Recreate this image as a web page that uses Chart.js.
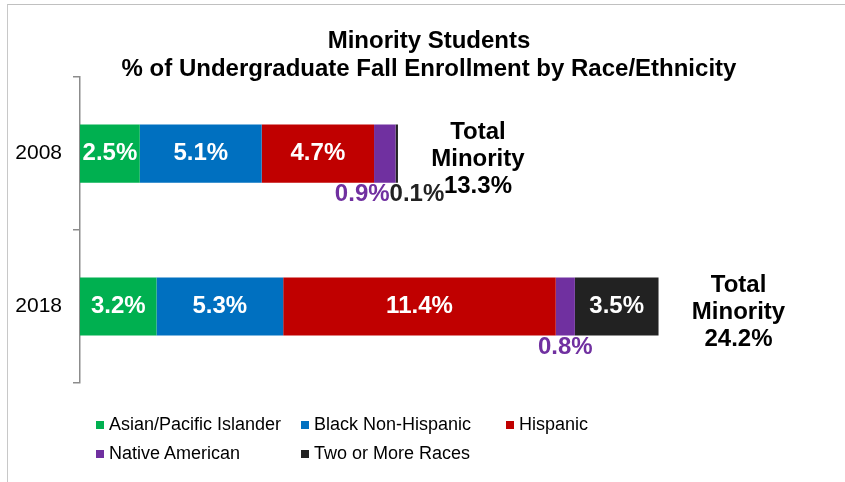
<!DOCTYPE html>
<html>
<head>
<meta charset="utf-8">
<script src="https://cdn.jsdelivr.net/npm/chart.js@4"></script>
<style>
  html, body { margin: 0; padding: 0; background: #fff; }
  body { width: 845px; height: 482px; position: relative; overflow: hidden; font-family: Arial, "Liberation Sans", sans-serif; }
  #frame { position: absolute; left: 7px; top: 4px; right: 0; bottom: 0; border-top: 1px solid #c0c0c0; border-left: 1px solid #c8c8c8; }
  #wrap { position: absolute; left: 0; top: 0; width: 845px; height: 482px; }
  #legend { position: absolute; left: 96px; top: 410px; display: grid; grid-template-columns: 205px 205px 205px; grid-auto-rows: 29px; font-size: 18px; color: #000; }
  .li { display: flex; align-items: center; white-space: nowrap; }
  .sw { width: 8px; height: 8px; margin-right: 5px; flex: none; }
</style>
</head>
<body>
<div id="frame"></div>
<div id="wrap"><canvas id="c"></canvas></div>
<div id="legend"></div>
<script>
/* Minority students, % of undergraduate fall enrollment */

const YEARS = ['2008', '2018'];
const GROUPS = ['Asian/Pacific Islander', 'Black Non-Hispanic', 'Hispanic', 'Native American', 'Two or More Races'];
const COLORS = ['#00B050', '#0070C0', '#C00000', '#7030A0', '#222222'];
const ASIAN = [2.5, 3.2];
const BLACK = [5.1, 5.3];
const HISPANIC = [4.7, 11.4];
const NATIVE = [0.9, 0.8];
const TWO_OR_MORE = [0.1, 3.5];
const SERIES = [ASIAN, BLACK, HISPANIC, NATIVE, TWO_OR_MORE];
const TITLE = ['Minority Students', '% of Undergraduate Fall Enrollment by Race/Ethnicity'];

const FONT = 'Arial, "Liberation Sans", sans-serif';
const pct = v => v.toFixed(1) + '%';

// value labels: white inside wide segments, coloured underneath narrow ones
const valueLabels = {
  id: 'valueLabels',
  afterDatasetsDraw(chart) {
    const ctx = chart.ctx;
    ctx.save();
    ctx.font = 'bold 24px ' + FONT;
    ctx.textBaseline = 'middle';
    chart.data.datasets.forEach((ds, di) => {
      const meta = chart.getDatasetMeta(di);
      meta.data.forEach((bar, i) => {
        const v = ds.data[i];
        const x0 = bar.base, x1 = bar.x;
        if (v >= 2) {
          ctx.fillStyle = '#fff';
          ctx.textAlign = 'center';
          ctx.fillText(pct(v), (x0 + x1) / 2, bar.y);
          return;
        }
        const y = bar.y + bar.height / 2 + 12;
        const next = chart.data.datasets[di + 1];
        const prev = chart.data.datasets[di - 1];
        ctx.fillStyle = ds.backgroundColor;
        if (next && next.data[i] < 2) {
          ctx.textAlign = 'right';
          ctx.fillText(pct(v), x1 - 6, y);
        } else if (prev && prev.data[i] < 2) {
          ctx.textAlign = 'left';
          ctx.fillText(pct(v), x0 - 6, y);
        } else {
          ctx.textAlign = 'center';
          ctx.fillText(pct(v), (x0 + x1) / 2, y);
        }
      });
    });
    // totals to the right of each bar
    const last = chart.getDatasetMeta(chart.data.datasets.length - 1);
    ctx.fillStyle = '#000';
    ctx.textAlign = 'center';
    last.data.forEach((bar, i) => {
      const total = SERIES.reduce((s, arr) => s + arr[i], 0);
      const cx = bar.x + 80, cy = bar.y + 6;
      ctx.fillText('Total', cx, cy - 27);
      ctx.fillText('Minority', cx, cy);
      ctx.fillText(pct(total), cx, cy + 27);
    });
    ctx.restore();
  }
};

Chart.defaults.font.family = FONT;
Chart.defaults.color = '#000';

new Chart(document.getElementById('c'), {
  type: 'bar',
  data: {
    labels: YEARS,
    datasets: GROUPS.map((g, k) => ({
      label: g,
      data: SERIES[k],
      backgroundColor: COLORS[k],
      borderWidth: 0,
      barPercentage: 0.38,
      categoryPercentage: 1,
    })),
  },
  options: {
    indexAxis: 'y',
    responsive: true,
    maintainAspectRatio: false,
    animation: false,
    layout: { padding: { left: 13, right: 0, top: 0, bottom: 99 } },
    plugins: {
      legend: { display: false },
      tooltip: { enabled: false },
      title: {
        display: true,
        text: TITLE,
        color: '#000',
        font: { size: 24, weight: 'bold', lineHeight: 1.15 },
        padding: { top: 28, bottom: -6 },
      },
    },
    scales: {
      x: { stacked: true, display: false, min: 0, max: 32 },
      y: {
        stacked: true,
        afterFit(scale) { scale.width = 67; },
        border: { display: true, color: '#8c8c8c', width: 1.5 },
        grid: { display: true, drawOnChartArea: false, drawTicks: true, tickLength: 7, offset: true, color: '#8c8c8c', lineWidth: 1.5 },
        ticks: { padding: 11, color: '#000', font: { size: 21 } },
      },
    },
  },
  plugins: [valueLabels],
});

document.getElementById('legend').innerHTML = GROUPS.map((g, k) =>
  `<div class="li"><span class="sw" style="background:${COLORS[k]}"></span>${g}</div>`).join('');
</script>
</body>
</html>
